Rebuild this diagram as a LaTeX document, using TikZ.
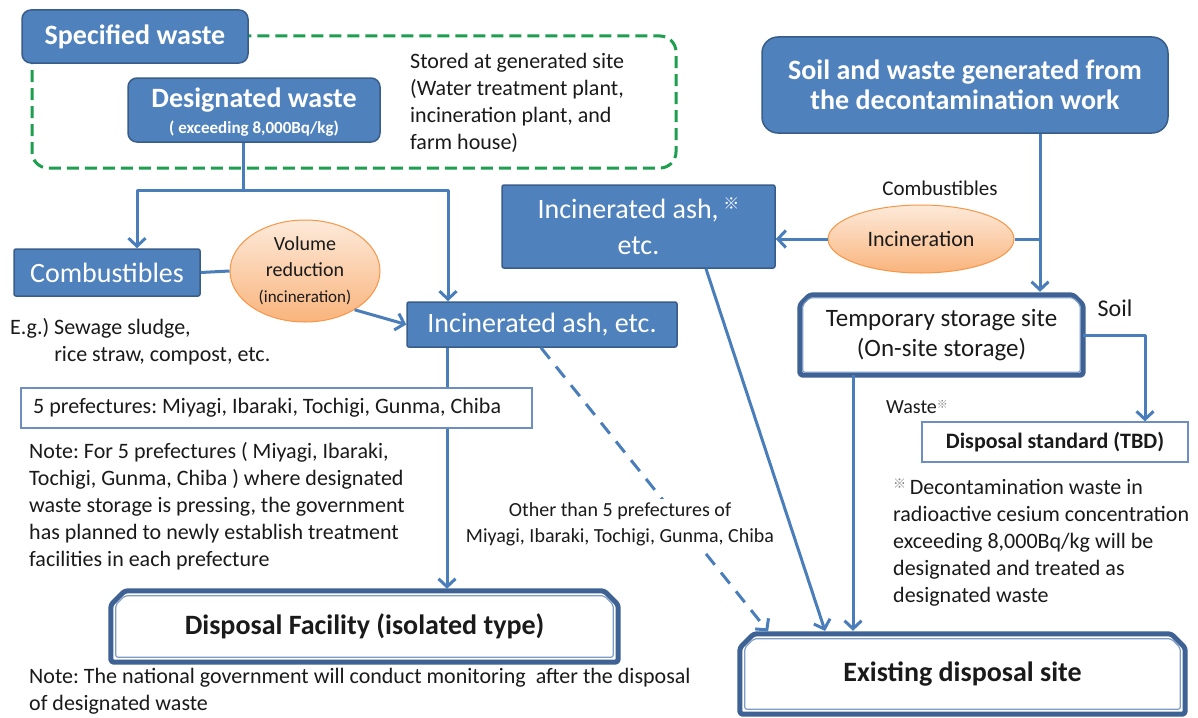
\documentclass[tikz,border=0pt]{standalone}
\usepackage{fontspec}
\setmainfont{Carlito}
\newfontfamily\cjk{Noto Sans CJK JP}
\usetikzlibrary{arrows.meta,shapes.geometric,calc}
\frenchspacing

\definecolor{boxblue}{HTML}{4F81BD}
\definecolor{boxedge}{HTML}{385D8A}
\definecolor{linkblue}{HTML}{4A7EBB}
\definecolor{dashgreen}{HTML}{1E9E4F}
\definecolor{ovaledge}{HTML}{F79646}
\definecolor{ovaltop}{HTML}{FDEADA}
\definecolor{ovalbot}{HTML}{F9B47C}
\definecolor{frameblue}{HTML}{3E6294}
\definecolor{framelight}{HTML}{7E9CC6}
\definecolor{slateedge}{HTML}{6D8EBF}
\definecolor{inktext}{HTML}{1A1A1A}

% outline of a framed box: top corners cut, #2 = cut size, #3 = inset
\newcommand\chamferpath[3]{%
  ($(#1.south west)+(#3,-#3)$) -- ($(#1.north west)+(#3,#2)$) --
  ($(#1.north west)+(#2,#3)$) -- ($(#1.north east)+(-#2,#3)$) --
  ($(#1.north east)+(-#3,#2)$) -- ($(#1.south east)+(-#3,-#3)$) -- cycle}

\begin{document}
\begin{tikzpicture}[x=1pt,y=-1pt,
  bluebox/.style={draw=boxedge, line width=1.5pt, fill=boxblue, text=white,
    inner sep=0pt, rounded corners=2pt},
  roundblue/.style={bluebox, rounded corners=9pt},
  link/.style={draw=linkblue, line width=3pt, line join=round},
  tip/.style={-{Straight Barb[length=8pt,width=17pt]}},
  arrow/.style={link, tip},
  oval/.style={ellipse, draw=ovaledge, line width=1pt, top color=ovaltop,
    bottom color=ovalbot, inner sep=0pt, text=inktext},
  note/.style={inner sep=0pt, anchor=north west, align=left, text=inktext,
    font=\fontsize{22}{27}\selectfont},
  thinbox/.style={draw=slateedge, line width=1.3pt, fill=white, inner sep=0pt,
    text=inktext},
  plain/.style={inner sep=0pt, text=inktext},
  frameout/.style={draw=frameblue, line width=5pt, line join=round, rounded corners=3pt},
  framein/.style={draw=framelight, line width=1.2pt, line join=round, rounded corners=2pt},
  greendash/.style={draw=dashgreen, line width=3pt, dash pattern=on 12pt off 6pt},
  bigbold/.style={font=\fontsize{28}{30}\selectfont\bfseries},
  bigreg/.style={font=\fontsize{28}{34}\selectfont}]

\useasboundingbox (0,0) rectangle (1198,717);
\fill[white] (0,0) rectangle (1198,717);

% storage-site group outline
\draw[greendash, rounded corners=16pt] (32,36) rectangle (676,168);

% ---------- left column ----------
\node[roundblue, bigbold, minimum width=226pt, minimum height=53pt] (spec) at (135,36.5) {Specified waste};
\node[roundblue, minimum width=252pt, minimum height=64pt] (desig) at (254,110) {};
\node[inner sep=0pt, text=white, anchor=base, font=\fontsize{28}{30}\selectfont\bfseries] (desigtitle) at (254,107) {Designated waste};
\node[inner sep=0pt, text=white, anchor=base, font=\fontsize{17}{18}\selectfont\bfseries] (desigsub) at (254,133) {( exceeding 8,000Bq/kg)};

\node[note] (stored) at (410,53) {Stored at generated site\\(Water treatment plant,\\incineration plant, and\\farm house)};

\node[bluebox, bigreg, minimum width=186pt, minimum height=47pt] (comb) at (107,272.5) {Combustibles};
\node[oval, minimum width=150pt, minimum height=102pt, align=center, font=\fontsize{20}{26}\selectfont] (vol) at (305,271)
  {Volume\\reduction\\{\fontsize{17}{20}\selectfont (incineration)}};
\node[bluebox, bigreg, minimum width=270pt, minimum height=45pt] (ashL) at (542,324.5) {Incinerated ash, etc.};

\node[note] (eg) at (10,318) {E.g.) Sewage sludge,\\\phantom{E.g.) }rice straw, compost, etc.};

% ---------- right column ----------
\node[roundblue, rounded corners=16pt, bigbold, minimum width=406pt, minimum height=96pt, align=center] (soil) at (965,85)
  {Soil and waste generated from\\the decontamination work};
\node[plain, font=\fontsize{21}{24}\selectfont] (comblbl) at (940,188) {Combustibles};
\node[oval, minimum width=186pt, minimum height=68pt, font=\fontsize{22}{24}\selectfont] (inc) at (921,239) {Incineration};
\node[bluebox, minimum width=273pt, minimum height=83pt, align=center, font=\fontsize{28}{36}\selectfont] (ashR) at (638.5,226.5)
  {Incinerated ash,\,\raisebox{9pt}{\cjk\fontsize{16}{16}\selectfont ※}\\etc.};

\node[plain, minimum width=283pt, minimum height=80pt, align=center, font=\fontsize{25}{30}\selectfont] (temp) at (941.5,335)
  {Temporary storage site\\(On-site storage)};
\draw[frameout] \chamferpath{temp}{10}{0};
\draw[framein] \chamferpath{temp}{10}{3};

\node[plain, font=\fontsize{24}{26}\selectfont] (soillbl) at (1115,308) {Soil};
\node[plain, anchor=west, font=\fontsize{20}{22}\selectfont] (wastelbl) at (886,407)
  {Waste{\color{gray}\cjk\fontsize{11}{11}\selectfont\raisebox{5pt}{※}}};
\node[thinbox, minimum width=266pt, minimum height=40pt, font=\fontsize{22}{24}\selectfont\bfseries] (std) at (1055,442) {Disposal standard (TBD)};

\node[note] (asterisk) at (893,479) {{\color{gray}\cjk\fontsize{13}{13}\selectfont\raisebox{6pt}{※}}\,Decontamination waste in\\radioactive cesium concentration\\exceeding 8,000Bq/kg will be\\designated and treated as\\designated waste};

% ---------- disposal sites ----------
\node[plain, minimum width=507pt, minimum height=71pt, bigbold] (disp) at (364.5,626.5) {Disposal Facility (isolated type)};
\draw[frameout] \chamferpath{disp}{14}{0};
\draw[framein] \chamferpath{disp}{14}{5};

\node[plain, minimum width=445pt, minimum height=80pt, bigbold] (exist) at (962.5,674) {Existing disposal site};
\draw[frameout] \chamferpath{exist}{14}{0};
\draw[framein] \chamferpath{exist}{14}{5};

\node[note] (monitor) at (29,668) {Note: The national government will conduct monitoring\ \ after the disposal\\of designated waste};

% ---------- connectors ----------
\coordinate (split) at (243,190);
\coordinate (jl) at (137,190);
\coordinate (jr) at (448,190);
\draw[link] (desig.south -| split) -- (split);
\draw[link, {Straight Barb[length=8pt,width=17pt]}-{Straight Barb[length=8pt,width=17pt]}]
  (comb.north -| jl) -- (jl) -- (jr) -- (ashL.north -| jr);
\draw[link] (comb.east) -- (vol.west);
\draw[arrow] (vol.-38) -- (ashL.west);

\coordinate (vx) at (447,0);
\draw[arrow, shorten >=2pt] (ashL.south -| vx) -- (disp.north -| vx);

\coordinate (dstart) at (541,0);
\coordinate (dend) at (770,0);
\draw[arrow, dash pattern=on 14pt off 10pt, shorten >=3pt] (ashL.south -| dstart) -- (exist.north -| dend);

\coordinate (ra) at (706,0);
\coordinate (rb) at (826,0);
\draw[arrow, shorten >=3pt] (ashR.south -| ra) -- (exist.north -| rb);
\coordinate (tx) at (853,0);
\draw[arrow, shorten >=3pt] (temp.south -| tx) -- (exist.north -| tx);

\coordinate (sx) at (1040,0);
\draw[arrow, shorten >=3pt] (soil.south -| sx) -- (temp.north -| sx);
\draw[link] (inc.east -| sx) -- (inc.east);
\draw[arrow] (inc.west) -- (inc.west -| ashR.east);
\coordinate (soilx) at (1145,0);
\draw[arrow] (temp.east) -| (std.north -| soilx);

% boxes and labels laid over the connectors
\node[thinbox, minimum width=511pt, minimum height=40pt] (pref) at (276.5,408) {};
\node[plain, anchor=west, font=\fontsize{22}{25}\selectfont] (preftext) at (33,408)
  {5 prefectures: Miyagi, Ibaraki, Tochigi, Gunma, Chiba};
\node[note] (prefnote) at (29,442) {Note: For 5 prefectures ( Miyagi, Ibaraki,\\Tochigi, Gunma, Chiba ) where designated\\waste storage is pressing, the government\\has planned to newly establish treatment\\facilities in each prefecture};
\node[fill=white, inner sep=3pt, align=center, text=inktext, font=\fontsize{20}{26}\selectfont] (other) at (620,524)
  {Other than 5 prefectures of\\Miyagi, Ibaraki, Tochigi, Gunma, Chiba};
\end{tikzpicture}
\end{document}
